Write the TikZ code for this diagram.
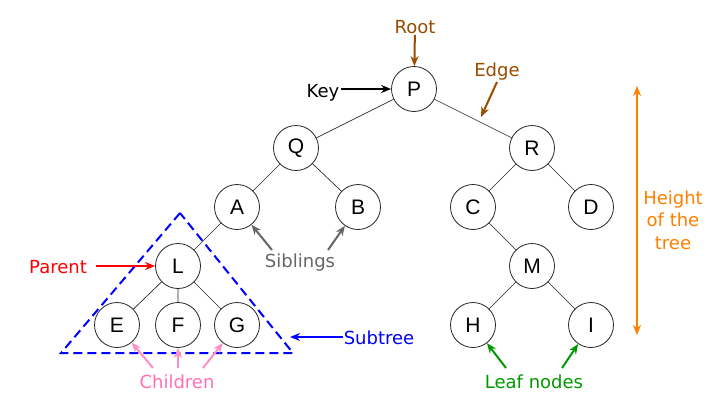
\documentclass[tikz,border=0pt]{standalone}
\usepackage{fontspec}
\setmainfont{DejaVu Sans}
\newfontfamily\keyfont{Liberation Sans}
\usetikzlibrary{arrows.meta}
\definecolor{rootbrown}{HTML}{994C00}
\definecolor{heightorange}{HTML}{FF8000}
\definecolor{leafgreen}{HTML}{009900}
\definecolor{sibgray}{HTML}{666666}
\definecolor{childpink}{HTML}{FF70B8}
\begin{document}
\begin{tikzpicture}[x=0.75pt,y=0.75pt,yscale=-1,xscale=1,
	>={Stealth[length=7.5pt,width=6pt]},
	key/.style={draw=black!85,line width=0.6pt,circle,minimum size=33.75pt,inner sep=0pt,font=\keyfont\fontsize{15.75}{18}\selectfont},
	lbl/.style={inner sep=0.75pt,font=\fontsize{13.5}{16.9}\selectfont},
	pointer/.style={line width=1.5pt,->},
	branch/.style={draw=black!85,line width=0.5pt}]
	\useasboundingbox (0,0) rectangle (720,407);
	% tree
	\node [key] (P) at (414,89) {P};
	\node [key] (Q) at (296,148) {Q};
	\node [key] (R) at (532,148) {R};
	\node [key] (A) at (237,207) {A};
	\node [key] (B) at (358,207) {B};
	\node [key] (C) at (473,207) {C};
	\node [key] (D) at (591,207) {D};
	\node [key] (L) at (178,266) {L};
	\node [key] (M) at (532,266) {M};
	\node [key] (E) at (117,325) {E};
	\node [key] (F) at (178,325) {F};
	\node [key] (G) at (237,325) {G};
	\node [key] (H) at (473,325) {H};
	\node [key] (I) at (591,325) {I};
	\draw [branch] (P) -- (Q) (P) -- (R) (Q) -- (A) (Q) -- (B) (A) -- (L);
	\draw [branch] (L) -- (E) (L) -- (F) (L) -- (G);
	\draw [branch] (R) -- (C) (R) -- (D) (C) -- (M) (M) -- (H) (M) -- (I);
	% subtree
	\coordinate (tritop) at (180,213);
	\coordinate (trileft) at (61,353);
	\coordinate (triright) at (293,353);
	\draw [blue,line width=1.5pt,dash pattern=on 6.75pt off 3.75pt] (tritop) -- (trileft) -- (triright) -- cycle;
	% labels
	\node [lbl,text=rootbrown] (root) at (415,27) {Root};
	\draw [pointer,rootbrown] (root) -- (P);
	\node [lbl] (keylbl) at (323,93) {Key};
	\draw [pointer] (keylbl.east |- P.west) -- (P.west);
	\node [lbl,text=rootbrown] (edgelbl) at (497,72) {Edge};
	\coordinate (edgetip) at (481,117);
	\draw [pointer,rootbrown] (edgelbl.south) -- (edgetip);
	\node [lbl,text=heightorange,align=center] (height) at (673,220) {Height\\of the\\tree};
	\coordinate (htop) at (637,86);
	\coordinate (hbot) at (637,335);
	\draw [pointer,<->,heightorange] (htop) -- (hbot);
	\node [lbl,text=red] (parent) at (58,267) {Parent};
	\draw [pointer,red,shorten <=6pt] (parent.east |- L.west) -- (L.west);
	\node [lbl,text=sibgray] (sib) at (300,263) {Siblings};
	\coordinate (sibA) at (272,250);
	\coordinate (sibB) at (328,250);
	\draw [pointer,sibgray] (sibA) -- (A);
	\draw [pointer,sibgray] (sibB) -- (B);
	\node [lbl,text=blue] (subtree) at (379,338) {Subtree};
	\coordinate (subtip) at (290,337);
	\draw [pointer,blue] (subtree.west |- subtip) -- (subtip);
	\node [lbl,text=childpink] (children) at (177,382) {Children};
	\coordinate (chE) at (153,368);
	\coordinate (chF) at (178,368);
	\coordinate (chG) at (203,368);
	\draw [pointer,childpink!80] (chE) -- (E);
	\draw [pointer,childpink!80] (chF) -- (F);
	\draw [pointer,childpink!80] (chG) -- (G);
	\node [lbl,text=leafgreen] (leaf) at (534,382) {Leaf nodes};
	\coordinate (lfH) at (506,368);
	\coordinate (lfI) at (562,368);
	\draw [pointer,leafgreen] (lfH) -- (H);
	\draw [pointer,leafgreen] (lfI) -- (I);
\end{tikzpicture}
\end{document}
